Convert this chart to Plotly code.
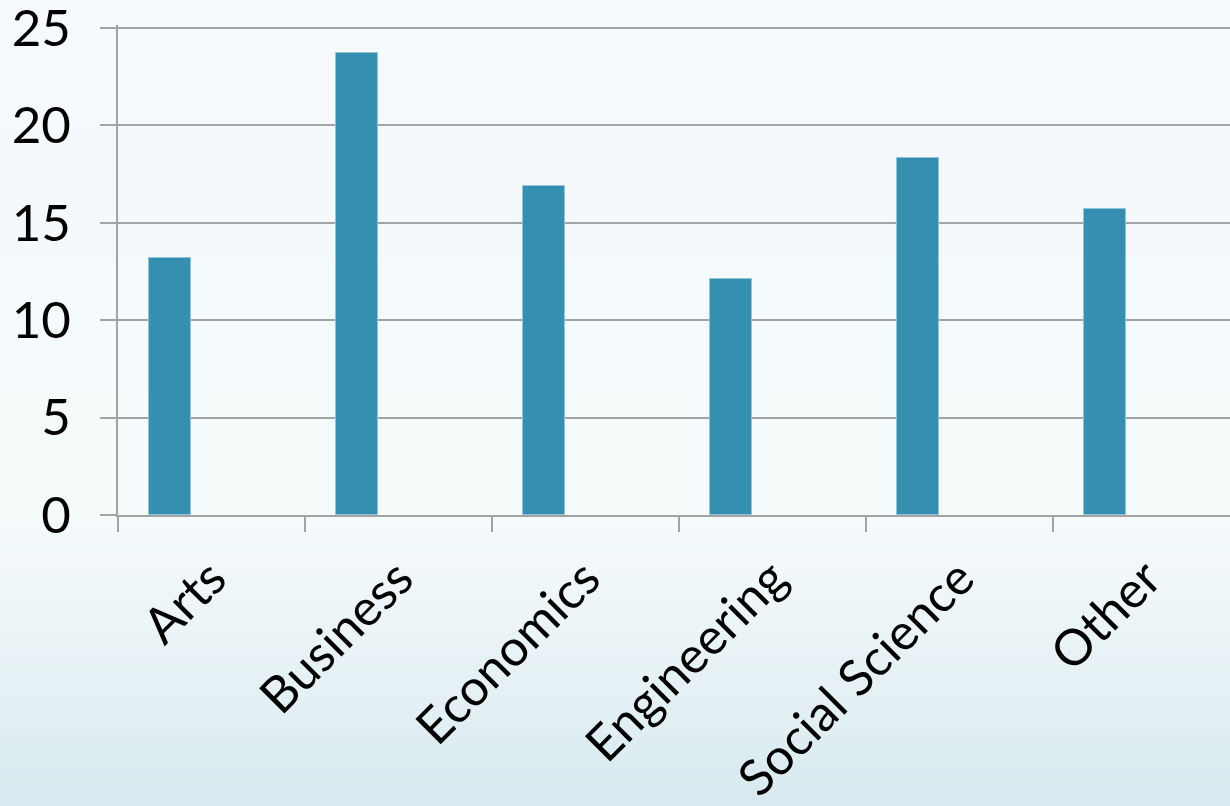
import plotly.graph_objects as go

# Share of students by field of study
fields = ["Arts", "Business", "Economics", "Engineering", "Social Science", "Other"]
shares = [13.2, 23.7, 16.9, 12.1, 18.3, 15.7]
y_ticks = [0, 5, 10, 15, 20, 25]

BAR = "#358FB0"
GRID = "#A3A3A3"
FONT = "Lato"

fig = go.Figure()
fig.add_trace(go.Bar(
    x=fields,
    y=shares,
    width=0.224,
    offset=-0.332,
    marker=dict(color=BAR, line=dict(color="#8FC4D9", width=1)),
    hoverinfo="x+y",
))

# Soft vertical gradient behind the chart, built from thin horizontal bands
def lerp(c1, c2, t):
    return tuple(round(a + (b - a) * t) for a, b in zip(c1, c2))

stops = [
    (0.0, (246, 249, 253)),
    (520.0, (245, 250, 251)),
    (600.0, (238, 246, 248)),
    (700.0, (228, 240, 244)),
    (806.0, (216, 233, 239)),
]
H, W = 806.0, 1230.0
plot_top, plot_bot, plot_left, plot_right = 25.0, 515.0, 118.0, 1230.0
ph = plot_bot - plot_top
pw = plot_right - plot_left
n = 80
shapes = []
for i in range(n):
    y0 = H * i / n
    y1 = H * (i + 1) / n
    ym = (y0 + y1) / 2
    for (a, ca), (b, cb) in zip(stops[:-1], stops[1:]):
        if a <= ym <= b:
            col = lerp(ca, cb, (ym - a) / (b - a))
            break
    shapes.append(dict(
        type="rect", xref="paper", yref="paper", layer="below",
        x0=(0 - plot_left) / pw, x1=(W - plot_left) / pw,
        y0=(plot_bot - y1) / ph, y1=(plot_bot - y0) / ph + 0.002,
        fillcolor="rgb(%d,%d,%d)" % col, line=dict(width=0),
    ))

fig.update_layout(
    width=1230,
    height=806,
    margin=dict(l=118, r=0, t=25, b=291),
    paper_bgcolor="rgb(246,249,253)",
    plot_bgcolor="rgba(0,0,0,0)",
    showlegend=False,
    bargap=0,
    shapes=shapes,
    font=dict(family=FONT, color="#000000", size=48),
    xaxis=dict(
        type="category",
        automargin=False,
        range=[-0.5, 5.447],
        tickson="boundaries",
        ticks="outside",
        ticklen=15,
        tickwidth=2,
        tickcolor=GRID,
        showline=True,
        linecolor=GRID,
        linewidth=2,
        showgrid=False,
        tickangle=-45,
        ticklabelstandoff=12,
        tickfont=dict(family=FONT, size=50, color="#000000"),
    ),
    yaxis=dict(
        automargin=False,
        range=[0, 25.15],
        tickvals=y_ticks,
        ticks="outside",
        ticklen=16,
        tickwidth=2,
        tickcolor=GRID,
        showline=True,
        linecolor=GRID,
        linewidth=2,
        showgrid=True,
        gridcolor=GRID,
        gridwidth=2,
        zeroline=False,
        ticklabelstandoff=19,
        ticklabeloverflow="allow",
        tickfont=dict(family=FONT, size=51, color="#000000"),
    ),
)

fig.write_html("out.html")
